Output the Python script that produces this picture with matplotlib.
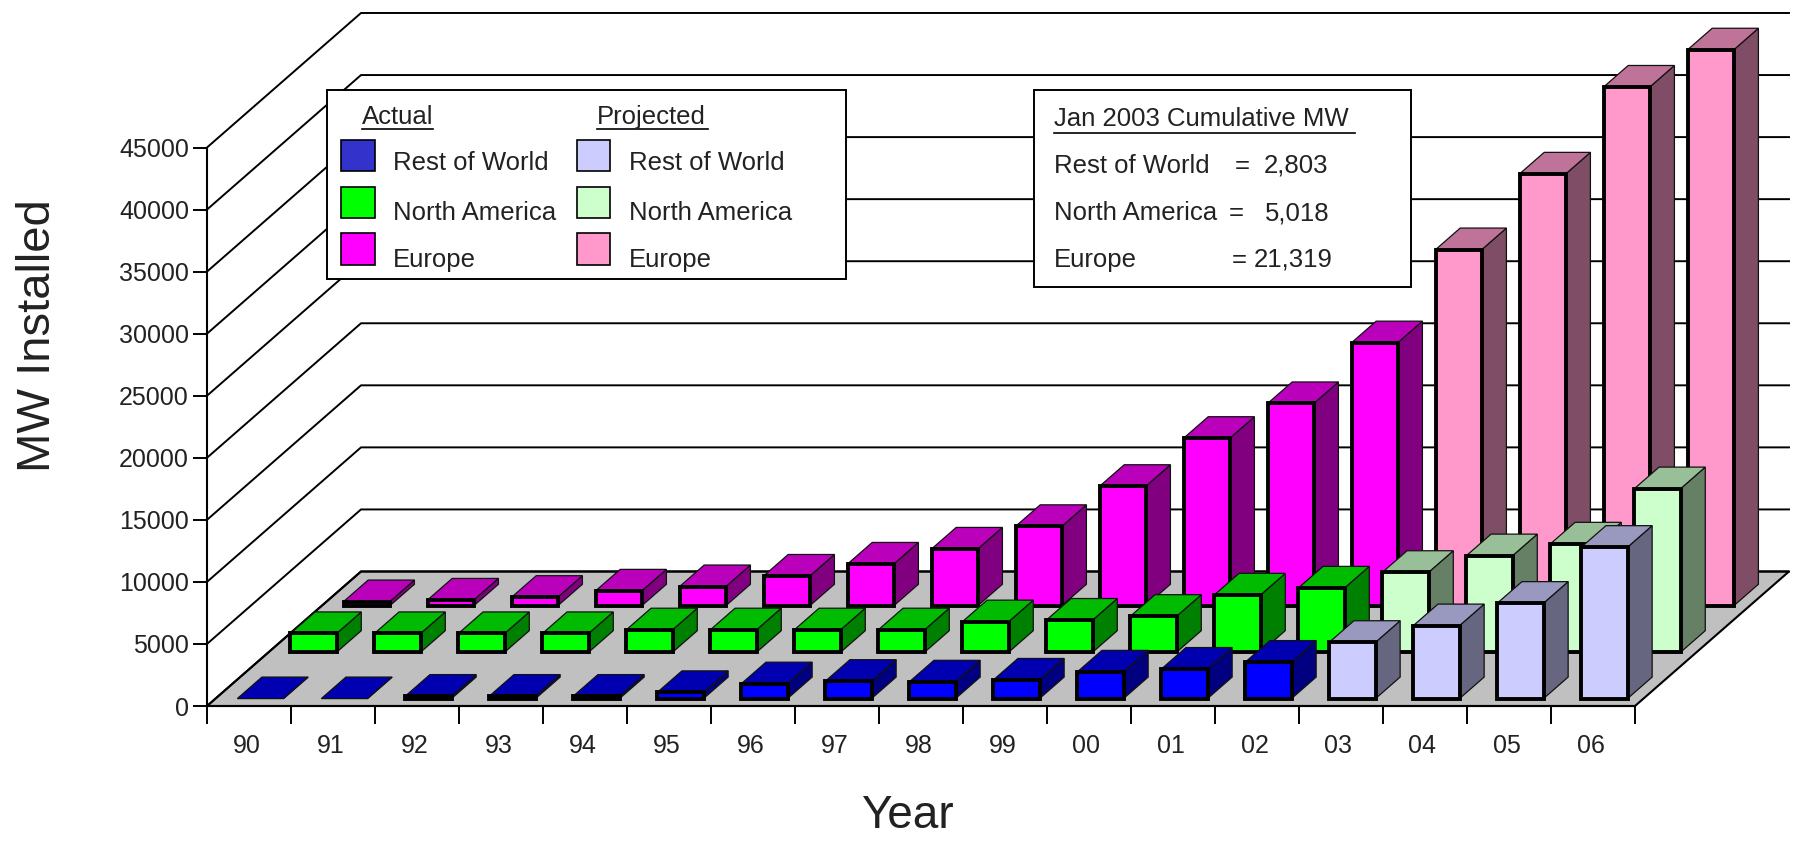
#!/usr/bin/env python3
"""Wind capacity installed per year, drawn as a fake-3D bar chart on plain axes."""

import matplotlib
matplotlib.use('Agg')
import matplotlib.pyplot as plt
from matplotlib.lines import Line2D
from matplotlib.patches import Polygon, Rectangle

plt.rcParams['font.family'] = ['Liberation Sans', 'DejaVu Sans']

W, H = 1799, 842

years = ['90', '91', '92', '93', '94', '95', '96', '97', '98',
         '99', '00', '01', '02', '03', '04', '05', '06']
y_ticks = [0, 5000, 10000, 15000, 20000, 25000, 30000, 35000, 40000, 45000]

rest_of_world = [0, 0, 200, 200, 200, 500, 1200, 1400, 1350,
                 1500, 2150, 2380, 2940, 4540, 5880, 7690, 12200]
north_america = [1510, 1510, 1510, 1510, 1810, 1810, 1810, 1810, 2460,
                 2590, 2900, 4620, 5180, 6440, 7780, 8730, 13180]
europe = [340, 470, 690, 1200, 1550, 2400, 3370, 4580, 6400,
          9630, 13500, 16300, 21200, 28700, 34800, 41800, 44800]

n_actual = 13  # 90..02 are actual, 03..06 projected

# (front, top, side) colours
blue = ('#0000ff', '#0000b0', '#000080')
green = ('#00ff00', '#00bb00', '#008000')
magenta = ('#ff00ff', '#bb00bb', '#800080')
pale_blue = ('#ccccff', '#9999bf', '#666680')
pale_green = ('#ccffcc', '#99bf99', '#668066')
pink = ('#ff99cc', '#bf7399', '#804d66')

# depth vector of the whole floor, in data units
DEPTH_X = 154 / 84
DEPTH_Y = 134.5 / 62.05 * 5000
BAR_W = 0.55
BAR_GAP = 0.26
BAR_DEPTH = 0.16

fig = plt.figure(figsize=(W / 100, H / 100), dpi=100, facecolor='white')
ax = fig.add_axes([207 / W, (H - 706) / H, (1635 - 207) / W, (706 - 147.5) / H])
ax.set_xlim(0, len(years))
ax.set_ylim(0, 45000)
ax.patch.set_visible(False)
for side in ['top', 'right']:
    ax.spines[side].set_visible(False)
ax.spines['left'].set_linewidth(1.5)
ax.spines['bottom'].set_linewidth(1.5)

# floor
n = len(years)
ax.add_patch(Polygon([(0, 0), (n, 0), (n + DEPTH_X, DEPTH_Y), (DEPTH_X, DEPTH_Y)],
                     closed=True, facecolor='#c0c0c0', edgecolor='black',
                     linewidth=1.5, clip_on=False, zorder=1))

# walls
for v in y_ticks:
    ax.plot([0, DEPTH_X, n + DEPTH_X], [v, v + DEPTH_Y, v + DEPTH_Y], color='black',
            linewidth=1.4, clip_on=False, zorder=1.5)


def draw_bar(i, value, depth, colours, z):
    front, top, side = colours
    x0 = i + BAR_GAP + depth * DEPTH_X
    x1 = x0 + BAR_W
    y0 = depth * DEPTH_Y
    y1 = y0 + value
    bx = BAR_DEPTH * DEPTH_X
    by = BAR_DEPTH * DEPTH_Y
    ax.add_patch(Polygon([(x1, y0), (x1 + bx, y0 + by), (x1 + bx, y1 + by), (x1, y1)],
                         closed=True, facecolor=side, edgecolor='#111111',
                         linewidth=0.9, clip_on=False, zorder=z))
    ax.add_patch(Polygon([(x0, y1), (x1, y1), (x1 + bx, y1 + by), (x0 + bx, y1 + by)],
                         closed=True, facecolor=top, edgecolor='#111111',
                         linewidth=0.9, clip_on=False, zorder=z))
    if value > 0:
        ax.add_patch(Rectangle((x0, y0), BAR_W, value, facecolor=front, edgecolor='black',
                               linewidth=2.8, clip_on=False, zorder=z + 0.1))


# back row first so the front rows overlap it
rows = [(europe, 0.745, magenta, pink),
        (north_america, 0.40, green, pale_green),
        (rest_of_world, 0.055, blue, pale_blue)]
z = 2
for values, depth, actual_col, proj_col in rows:
    for i, value in enumerate(values):
        draw_bar(i, value, depth, actual_col if i < n_actual else proj_col, z)
    z += 1

ax.set_yticks(y_ticks)
ax.set_yticklabels([str(v) for v in y_ticks], fontsize=18, color='#222222')
ax.tick_params(axis='y', length=10, width=1.4, pad=3)
ax.set_xticks(range(n + 1))
ax.set_xticklabels([])
ax.tick_params(axis='x', which='major', length=13, width=1.4)
ax.set_xticks([i + 0.47 for i in range(n)], minor=True)
ax.set_xticklabels(years, minor=True, fontsize=18, color='#222222')
ax.tick_params(axis='x', which='minor', length=0, pad=20)


def px_text(x, y, s, size=18.5, **kw):
    kw.setdefault('va', 'center')
    kw.setdefault('color', '#222222')
    fig.text(x / W, 1 - y / H, s, fontsize=size, zorder=4, **kw)


def px_box(x0, y0, x1, y1, face='white', lw=1.4):
    fig.add_artist(Rectangle((x0 / W, 1 - y1 / H), (x1 - x0) / W, (y1 - y0) / H,
                             transform=fig.transFigure, facecolor=face,
                             edgecolor='black', linewidth=lw, zorder=3))


def px_line(x0, x1, y):
    fig.add_artist(Line2D([x0 / W, x1 / W], [1 - y / H, 1 - y / H],
                          transform=fig.transFigure, color='black',
                          linewidth=1.2, zorder=4))


# axis titles
px_text(38, 336, 'MW Installed', size=34, rotation=90, ha='center')
px_text(907, 816, 'Year', size=33, ha='center')

# legend box
legend_names = ['Rest of World', 'North America', 'Europe']
legend_actual = ['#3333cc', '#00ff00', '#ff00ff']
legend_proj = ['#ccccff', '#ccffcc', '#ff99cc']
swatch_y = [139.5, 186.5, 233]
text_y = [163.5, 213, 259.5]

px_box(327, 90, 846, 279)
px_text(362, 117, 'Actual')
px_line(362, 433, 129)
px_text(597, 117, 'Projected')
px_line(597, 708, 129)
for name, ca, cp, sy, ty in zip(legend_names, legend_actual, legend_proj, swatch_y, text_y):
    fig.add_artist(Rectangle((341 / W, 1 - (sy + 31.5) / H), 34 / W, 31.5 / H,
                             transform=fig.transFigure, facecolor=ca,
                             edgecolor='black', linewidth=1.2, zorder=4))
    fig.add_artist(Rectangle((577 / W, 1 - (sy + 31.5) / H), 33 / W, 31.5 / H,
                             transform=fig.transFigure, facecolor=cp,
                             edgecolor='black', linewidth=1.2, zorder=4))
    px_text(393, ty, name)
    px_text(629, ty, name)

# cumulative totals box
px_box(1034, 90, 1411, 287)
px_text(1054, 119, 'Jan 2003 Cumulative MW')
px_line(1054, 1355, 132.5)
px_text(1054, 166, 'Rest of World')
px_text(1235, 166, '=')
px_text(1264, 166, '2,803')
px_text(1054, 213, 'North America')
px_text(1229, 213, '=')
px_text(1265, 213, '5,018')
px_text(1054, 259.5, 'Europe')
px_text(1232, 259.5, '=')
px_text(1254, 259.5, '21,319')

fig.savefig('out.png', dpi=100)
